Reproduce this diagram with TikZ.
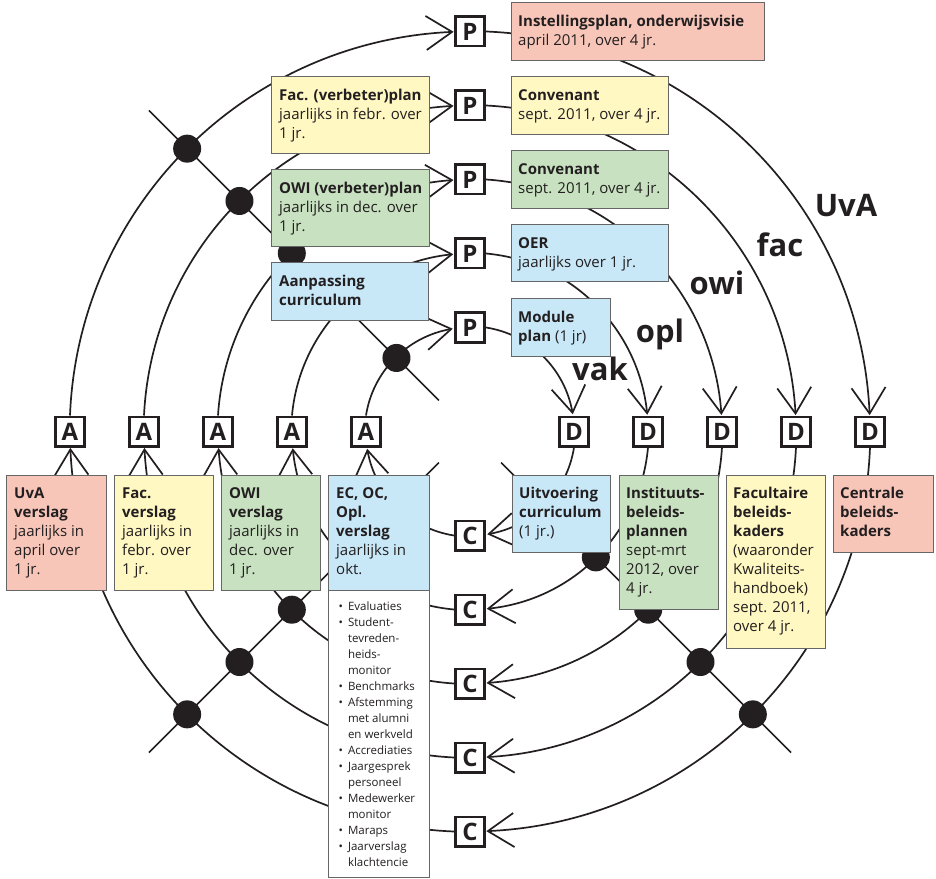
\documentclass[tikz,border=0pt]{standalone}
\usepackage{fontspec}
\setmainfont{Open Sans}
\usetikzlibrary{arrows.meta,bending}
\definecolor{cpink}{HTML}{F7C6B9}
\definecolor{cyel}{HTML}{FFF8C2}
\definecolor{cgreen}{HTML}{C8E2C1}
\definecolor{cblue}{HTML}{C8E8F8}
\definecolor{ink}{HTML}{231F20}
\newcommand\bxt[1]{\begin{tabular}[t]{@{}l@{}}#1\end{tabular}}
\begin{document}
\begin{tikzpicture}[x=1pt,y=1pt,
  ring/.style={line width=1.7pt, draw=ink, -{Straight Barb[length=26pt,width=34pt]}},
  plainline/.style={line width=1.7pt, draw=ink},
  dot/.style={circle, fill=ink, minimum size=28pt, inner sep=0pt},
  letter/.style={draw=ink, line width=2.6pt, fill=white, minimum size=29.4pt, inner sep=0pt, text=ink, font=\fontsize{24}{24}\selectfont\bfseries},
  tbox/.style={draw=black!60, line width=1pt, anchor=north west, inner sep=0pt, outer sep=0pt},
  txt/.style={anchor=base west, inner sep=0pt, text=ink, font=\fontsize{15}{19}\selectfont},
  small/.style={anchor=base west, inner sep=0pt, text=ink, font=\fontsize{11.5}{16}\selectfont},
  lab/.style={anchor=base, inner sep=0pt, text=ink, font=\fontsize{31}{31}\selectfont\bfseries}]
\useasboundingbox (-470,-446.5) rectangle (466,431.5);
% letter boxes
\foreach \r/\n in {400/1,326/2,252/3,178/4,104/5}{
  \node[letter] (P\n) at (0,\r) {P};
  \node[letter] (D\n) at (\r,0) {D};
  \node[letter] (C\n) at (0,-\r) {C};
  \node[letter] (A\n) at (-\r,0) {A};
}
% rings
\foreach \r/\n in {400/1,326/2,252/3,178/4,104/5}{
  \pgfmathsetmacro\a{asin(16/\r)}
  \draw[ring] (A\n.north) arc[start angle=180-\a, end angle=90+\a, radius=\r];
  \draw[ring] (P\n.east) arc[start angle=90-\a, end angle=\a, radius=\r];
  \draw[ring] (D\n.south) arc[start angle=-\a, end angle=-90+\a, radius=\r];
  \draw[ring] (C\n.west) arc[start angle=-90-\a, end angle=-180+\a, radius=\r];
}
% diagonals
\coordinate (ulo) at (135:454); \coordinate (uli) at (135:44);
\coordinate (llo) at (225:454); \coordinate (lli) at (225:44);
\coordinate (lro) at (315:454); \coordinate (lri) at (315:44);
\draw[plainline] (ulo) -- (uli);
\draw[plainline] (llo) -- (lli);
\draw[plainline] (lro) -- (lri);
\foreach \r/\n in {400/1,326/2,252/3,178/4,104/5}{
  \node[dot] (dul\n) at (135:\r) {};
  \node[dot] (dll\n) at (225:\r) {};
  \node[dot] (dlr\n) at (315:\r) {};
}
% boxes in image coordinates
\begin{scope}[shift={(-470,431.5)}, y={(0pt,-1pt)}]
\node[tbox, fill=cpink, minimum width=253pt, minimum height=58pt] (b1) at (511,3) {};
\node[txt] (t1) at (518,26.5) {\bxt{\textbf{Instellingsplan, onderwijsvisie}\\april 2011, over 4 jr.}};
\node[tbox, fill=cyel, minimum width=157pt, minimum height=58pt] (b2) at (511,77) {};
\node[txt] (t2) at (518,100.5) {\bxt{\textbf{Convenant}\\sept. 2011, over 4 jr.}};
\node[tbox, fill=cgreen, minimum width=157pt, minimum height=58pt] (b3) at (511,151) {};
\node[txt] (t3) at (518,174.5) {\bxt{\textbf{Convenant}\\sept. 2011, over 4 jr.}};
\node[tbox, fill=cblue, minimum width=157pt, minimum height=57pt] (b4) at (511,225) {};
\node[txt] (t4) at (518,248.5) {\bxt{\textbf{OER}\\jaarlijks over 1 jr.}};
\node[tbox, fill=cblue, minimum width=99pt, minimum height=57pt] (b5) at (511,299) {};
\node[txt] (t5) at (518,322.5) {\bxt{\textbf{Module}\\\textbf{plan} (1 jr)}};
\node[tbox, fill=cyel, minimum width=157pt, minimum height=77pt] (b6) at (272,77) {};
\node[txt] (t6) at (279,100.5) {\bxt{\textbf{Fac. (verbeter)plan}\\jaarlijks in febr. over\\1 jr.}};
\node[tbox, fill=cgreen, minimum width=157pt, minimum height=77pt] (b7) at (272,170) {};
\node[txt] (t7) at (279,193.5) {\bxt{\textbf{OWI (verbeter)plan}\\jaarlijks in dec. over\\1 jr.}};
\node[tbox, fill=cblue, minimum width=156pt, minimum height=58pt] (b8) at (272,263) {};
\node[txt] (t8) at (279,286.5) {\bxt{\textbf{Aanpassing}\\\textbf{curriculum}}};
\node[tbox, fill=cpink, minimum width=100pt, minimum height=115pt] (b9) at (7,475) {};
\node[txt] (t9) at (14,498.5) {\bxt{\textbf{UvA}\\\textbf{verslag}\\jaarlijks in\\april over\\1 jr.}};
\node[tbox, fill=cyel, minimum width=99pt, minimum height=115pt] (b10) at (115,475) {};
\node[txt] (t10) at (122,498.5) {\bxt{\textbf{Fac.}\\\textbf{verslag}\\jaarlijks in\\febr. over\\1 jr.}};
\node[tbox, fill=cgreen, minimum width=99pt, minimum height=115pt] (b11) at (222,475) {};
\node[txt] (t11) at (229,498.5) {\bxt{\textbf{OWI}\\\textbf{verslag}\\jaarlijks in\\dec. over\\1 jr.}};
\node[tbox, fill=cblue, minimum width=100pt, minimum height=115pt] (b12) at (329,475) {};
\node[txt] (t12) at (336,498.5) {\bxt{\textbf{EC, OC,}\\\textbf{Opl.}\\\textbf{verslag}\\jaarlijks in\\okt.}};
\node[tbox, fill=white, minimum width=100pt, minimum height=287pt] (b12b) at (329,590) {};
\node[small] (t12b) at (338.5,610) {\begin{tabular}[t]{@{}l@{\hspace{5pt}}l@{}}
\textbullet & Evaluaties\\
\textbullet & Student-\\
 & tevreden-\\
 & heids-\\
 & monitor\\
\textbullet & Benchmarks\\
\textbullet & Afstemming\\
 & met alumni\\
 & en werkveld\\
\textbullet & Accrediaties\\
\textbullet & Jaargesprek\\
 & personeel\\
\textbullet & Medewerker\\
 & monitor\\
\textbullet & Maraps\\
\textbullet & Jaarverslag\\
 & klachtencie
\end{tabular}};
\node[tbox, fill=cblue, minimum width=98pt, minimum height=77pt] (b13) at (512,475) {};
\node[txt] (t13) at (519,498.5) {\bxt{\textbf{Uitvoering}\\\textbf{curriculum}\\(1 jr.)}};
\node[tbox, fill=cgreen, minimum width=99pt, minimum height=134pt] (b14) at (619,475) {};
\node[txt] (t14) at (626,498.5) {\bxt{\textbf{Instituuts-}\\\textbf{beleids-}\\\textbf{plannen}\\sept-mrt\\2012, over\\4 jr.}};
\node[tbox, fill=cyel, minimum width=99pt, minimum height=173pt] (b15) at (726,475) {};
\node[txt] (t15) at (733,498.5) {\bxt{\textbf{Facultaire}\\\textbf{beleids-}\\\textbf{kaders}\\(waaronder\\Kwaliteits-\\handboek)\\sept. 2011,\\over 4 jr.}};
\node[tbox, fill=cpink, minimum width=100pt, minimum height=77pt] (b16) at (833,475) {};
\node[txt] (t16) at (840,498.5) {\bxt{\textbf{Centrale}\\\textbf{beleids-}\\\textbf{kaders}}};
% ring labels
\node[lab] (lUvA) at (846,217) {UvA};
\node[lab] (lfac) at (780,257) {fac};
\node[lab] (lowi) at (717,295) {owi};
\node[lab] (lopl) at (660,343) {opl};
\node[lab] (lvak) at (600,380) {vak};
\end{scope}
\end{tikzpicture}
\end{document}
